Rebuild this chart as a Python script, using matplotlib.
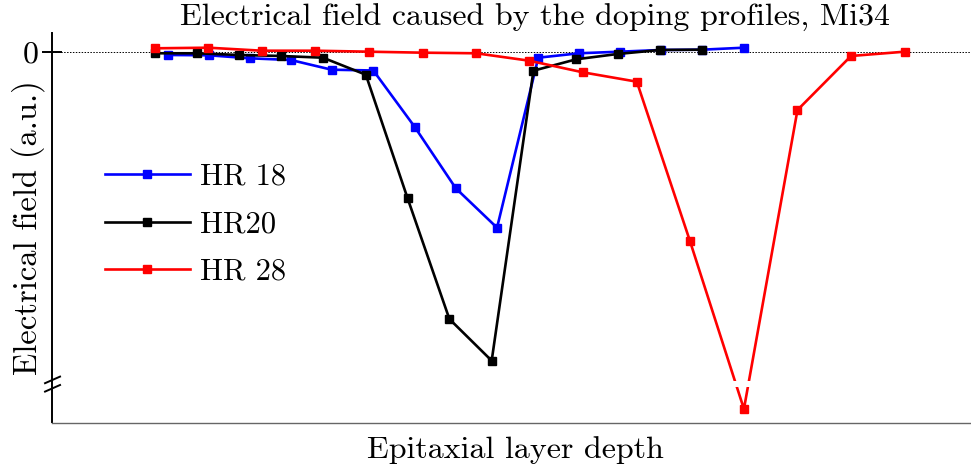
import matplotlib.pyplot as plt

plt.rcParams['font.family'] = 'cmr10'
plt.rcParams['mathtext.fontset'] = 'cm'
plt.rcParams['axes.unicode_minus'] = False
plt.rcParams['axes.formatter.use_mathtext'] = True

# depth positions (a.u.) and field values (a.u.) for each wafer
depth_hr18 = [2.16, 2.93, 3.69, 4.46, 5.22, 6.00, 6.77, 7.54, 8.31, 9.08, 9.84, 10.60, 11.37, 12.14, 12.92]
field_hr18 = [-1.0, -1.1, -2.1, -2.67, -5.9, -6.17, -24.9, -45.43, -58.57, -1.9, -0.43, 0.1, 0.67, 0.77, 1.43]

depth_hr20 = [1.92, 2.71, 3.49, 4.27, 5.06, 5.86, 6.64, 7.42, 8.21, 8.99, 9.79, 10.56, 11.35, 12.14]
field_hr20 = [-0.43, -0.43, -1.0, -1.33, -1.9, -7.57, -48.77, -89.0, -102.9, -6.23, -2.43, -0.67, 0.67, 0.77]

depth_hr28 = [1.92, 2.92, 3.92, 4.92, 5.91, 6.92, 7.92, 8.91, 9.91, 10.92, 11.91, 12.92, 13.92, 14.92, 15.92]
field_hr28 = [1.23, 1.43, 0.43, 0.43, 0.1, -0.23, -0.43, -2.9, -6.77, -9.9, -62.9, -119.0, -19.33, -1.33, 0.1]

fig = plt.figure(figsize=(9.71, 4.72), dpi=100)
ax = fig.add_axes([52 / 971, 1 - 422.5 / 472, 919 / 971, 389.5 / 472])

ax.plot(depth_hr18, field_hr18, color='#0000ff', lw=1.9, marker='s', ms=6.3, label='HR 18')
ax.plot(depth_hr20, field_hr20, color='black', lw=1.9, marker='s', ms=6.3, label='HR20')
ax.plot(depth_hr28, field_hr28, color='#ff0000', lw=1.9, marker='s', ms=6.3, label='HR 28')

ax.axhline(0, color='black', ls=(0, (1.5, 1.5)), lw=0.7, zorder=1)

# gap across the plot where the y axis is broken
ax.axhspan(-109.6, -111.8, color='white', lw=0, zorder=2.2)

ax.set_xlim(0, 17.16)
ax.set_ylim(-123.5, 6.33)

for side in ['top', 'right']:
    ax.spines[side].set_visible(False)
ax.spines['left'].set_linewidth(1.4)
ax.spines['bottom'].set_linewidth(1.0)
ax.spines['bottom'].set_color('#666666')

ax.set_xticks([])
ax.set_yticks([0])
ax.tick_params(axis='y', direction='inout', length=15, width=1.4, labelsize=23, pad=2)

# break marks on the y axis
for yb in [-109.3, -112.1]:
    ax.plot([-0.13, 0.15], [yb - 1.1, yb + 1.1], color='black', lw=1.4, clip_on=False, zorder=3)

fig.text(28 / 971, 1 - 228 / 472, 'Electrical field (a.u.)', fontsize=23.5,
         rotation=90, ha='center', va='center')
fig.text(515 / 971, 1 - 450 / 472, 'Epitaxial layer depth', fontsize=23,
         ha='center', va='center')
fig.text(535 / 971, 1 - 18 / 472, 'Electrical field caused by the doping profiles, Mi34',
         fontsize=23, ha='center', va='center')

ax.legend(loc='upper left', bbox_to_anchor=(0.0277, 0.7356), frameon=False, fontsize=22,
          handlelength=2.78, handletextpad=0.33, labelspacing=0.65)

fig.savefig('out.png', dpi=100)
